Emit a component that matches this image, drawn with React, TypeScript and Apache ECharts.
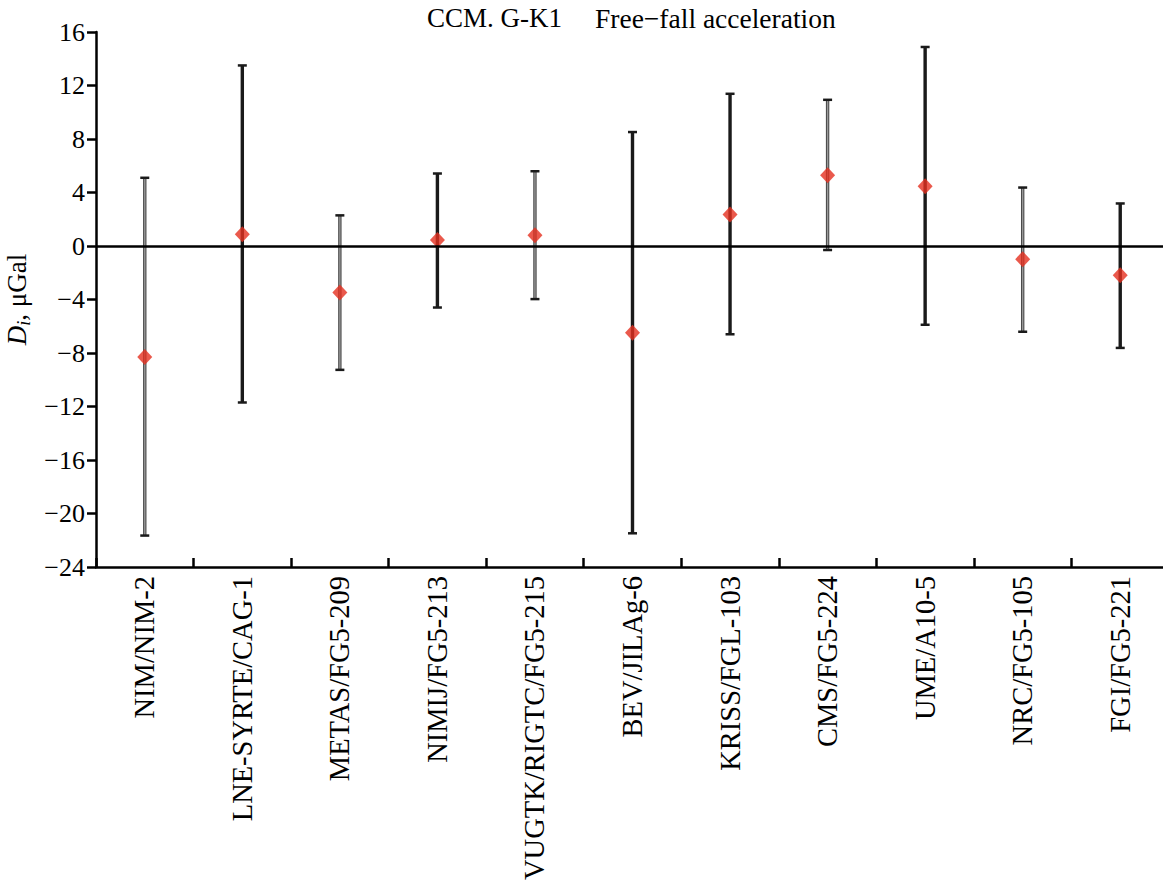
import React, { useEffect, useRef } from 'react';
import * as echarts from 'echarts';

const categories = [
  'NIM/NIM-2',
  'LNE-SYRTE/CAG-1',
  'METAS/FG5-209',
  'NIMIJ/FG5-213',
  'VUGTK/RIGTC/FG5-215',
  'BEV/JILAg-6',
  'KRISS/FGL-103',
  'CMS/FG5-224',
  'UME/A10-5',
  'NRC/FG5-105',
  'FGI/FG5-221',
];
const values = [-8.3, 0.87, -3.47, 0.45, 0.8, -6.48, 2.36, 5.29, 4.47, -0.99, -2.18];
const upper = [5.1, 13.5, 2.29, 5.42, 5.59, 8.52, 11.38, 10.93, 14.88, 4.37, 3.18];
const lower = [-21.65, -11.7, -9.26, -4.6, -3.97, -21.48, -6.6, -0.3, -5.89, -6.41, -7.62];
const grayBars = [0, 2, 4, 7, 9];

const FONT = '"Liberation Serif", "Times New Roman", serif';

export default function App() {
  const ref = useRef<HTMLDivElement>(null);
  useEffect(() => {
    if (!ref.current) return;
    const chart = echarts.init(ref.current, null, { renderer: 'svg' });
    const errData = categories.map((_, i) => [i, lower[i], upper[i]]);
    chart.setOption({
      animation: false,
      backgroundColor: '#ffffff',
      textStyle: { fontFamily: FONT },
      grid: { left: 96, top: 32, width: 1073, height: 535, containLabel: false, outerBoundsMode: 'none' },
      graphic: [
        {
          type: 'text',
          left: 427,
          top: 4,
          style: { text: 'CCM. G-K1', font: `27px ${FONT}`, fill: '#000' },
        },
        {
          type: 'text',
          left: 595,
          top: 4,
          style: { text: 'Free\u2212fall acceleration', font: `27.5px ${FONT}`, fill: '#000' },
        },
      ],
      xAxis: {
        type: 'category',
        data: categories,
        boundaryGap: true,
        axisLine: { onZero: false, lineStyle: { color: '#000', width: 2.5 } },
        axisTick: { show: true, inside: true, length: 9, interval: 0, lineStyle: { color: '#000', width: 2.5 } },
        axisLabel: {
          interval: 0,
          rotate: 90,
          margin: 9,
          fontSize: 28.5,
          color: '#000',
          fontFamily: FONT,
        },
        splitLine: { show: false },
      },
      yAxis: {
        type: 'value',
        min: -24,
        max: 16,
        interval: 4,
        name: '{d|D}{s|i}{n|, \u03bcGal}',
        nameLocation: 'middle',
        nameRotate: 90,
        nameGap: 62,
        nameTextStyle: {
          color: '#000',
          fontFamily: FONT,
          rich: {
            d: { fontSize: 27, fontStyle: 'italic', fontFamily: FONT, color: '#000', lineHeight: 32, verticalAlign: 'middle' },
            s: { fontSize: 18, fontStyle: 'italic', fontFamily: FONT, color: '#000', lineHeight: 32, verticalAlign: 'bottom' },
            n: { fontSize: 27, fontFamily: FONT, color: '#000', lineHeight: 32, verticalAlign: 'middle' },
          },
        },
        axisLine: { show: true, lineStyle: { color: '#000', width: 2.5 } },
        axisTick: { show: true, inside: false, length: 9, lineStyle: { color: '#000', width: 2.5 } },
        axisLabel: {
          margin: 11,
          fontSize: 26,
          color: '#000',
          fontFamily: FONT,
          formatter: (v: number) => String(v).replace('-', '\u2212'),
        },
        splitLine: { show: false },
      },
      series: [
        {
          type: 'custom',
          z: 3,
          data: errData,
          renderItem: (params: any, api: any) => {
            const idx = api.value(0);
            const lo = api.coord([idx, api.value(1)]);
            const hi = api.coord([idx, api.value(2)]);
            const x = lo[0];
            const capHalf = 4.5;
            const gray = grayBars.indexOf(params.dataIndex) >= 0;
            const children: any[] = [
              {
                type: 'line',
                shape: { x1: x, y1: hi[1], x2: x, y2: lo[1] },
                style: { stroke: gray ? '#4a4a4a' : '#1a1a1a', lineWidth: 3.4 },
              },
            ];
            if (gray) {
              children.push({
                type: 'line',
                shape: { x1: x, y1: hi[1], x2: x, y2: lo[1] },
                style: { stroke: '#9a9a9a', lineWidth: 1.3 },
              });
            }
            children.push(
              {
                type: 'line',
                shape: { x1: x - capHalf, y1: hi[1], x2: x + capHalf, y2: hi[1] },
                style: { stroke: '#1a1a1a', lineWidth: 2.5 },
              },
              {
                type: 'line',
                shape: { x1: x - capHalf, y1: lo[1], x2: x + capHalf, y2: lo[1] },
                style: { stroke: '#1a1a1a', lineWidth: 2.5 },
              }
            );
            return { type: 'group', children };
          },
        },
        {
          type: 'scatter',
          z: 4,
          data: values,
          symbol: 'diamond',
          symbolSize: [15, 16],
          itemStyle: { color: '#e5301f' },
          markLine: {
            silent: true,
            symbol: ['none', 'none'],
            label: { show: false },
            lineStyle: { color: '#000', width: 2.5, type: 'solid' },
            data: [{ yAxis: 0 }],
          },
        },
      ],
    });
    return () => chart.dispose();
  }, []);
  return (
    <div
      ref={ref}
      style={{ position: 'absolute', left: 0, top: 0, width: 1163, height: 888 }}
    />
  );
}
